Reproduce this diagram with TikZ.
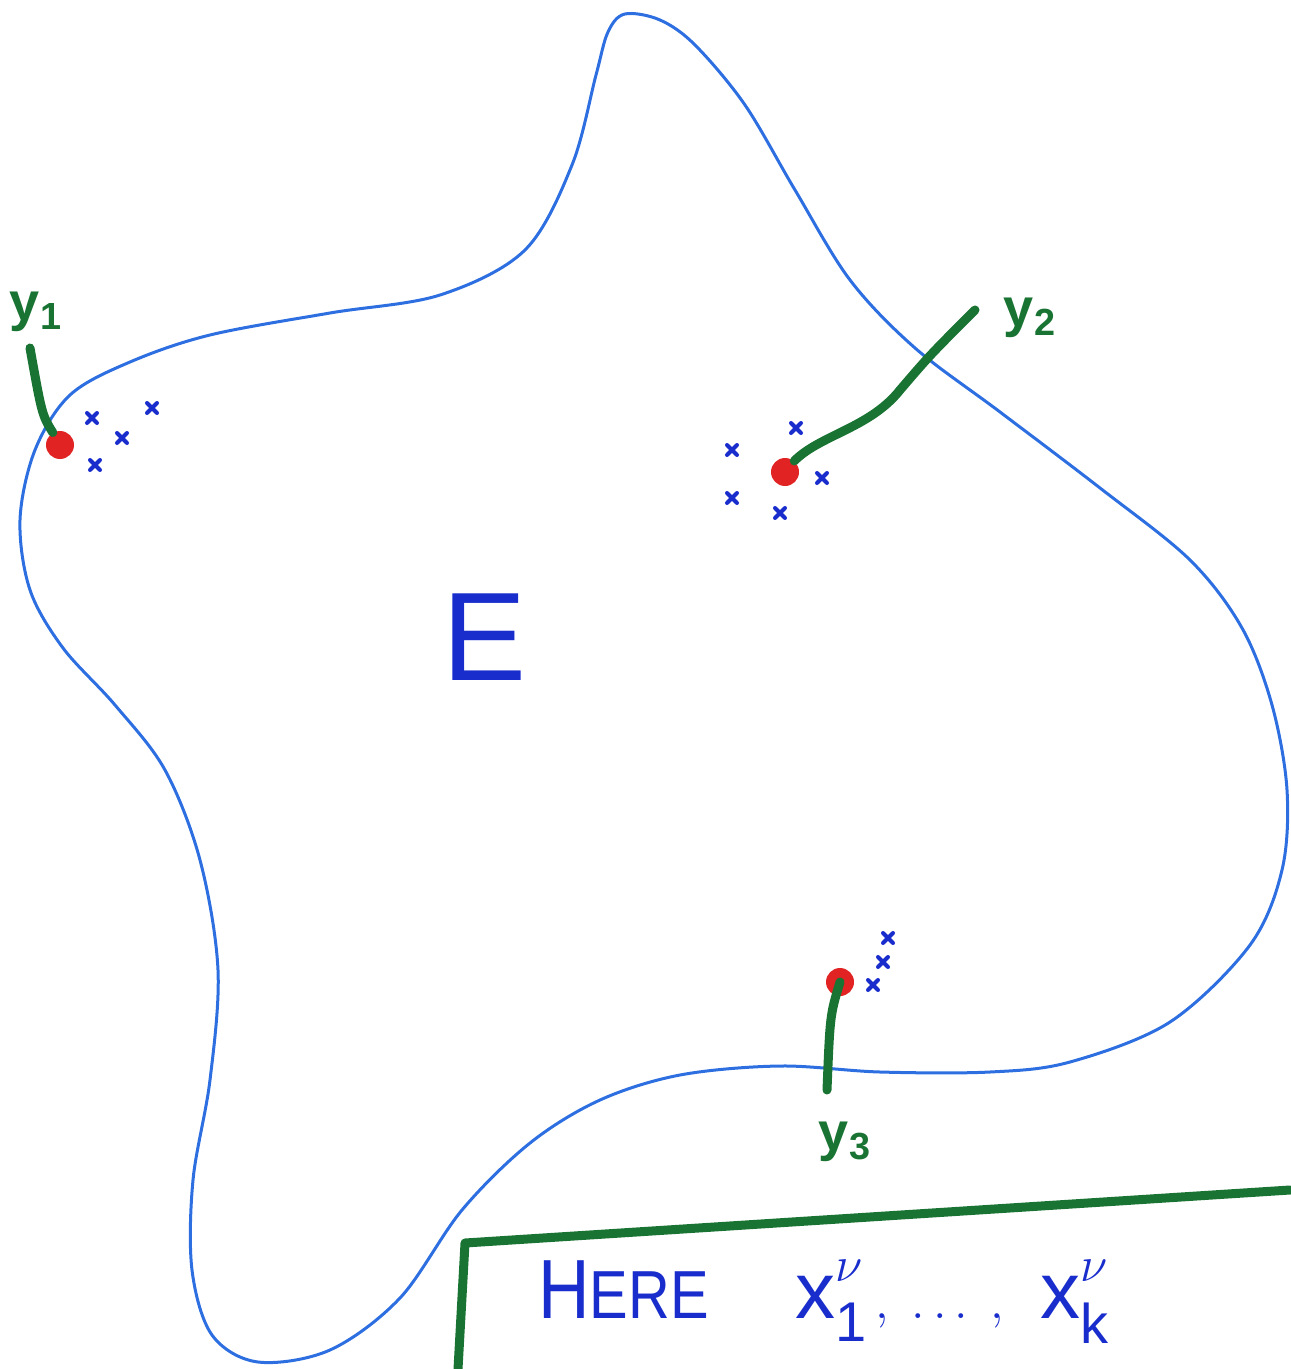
\documentclass[tikz,border=0pt]{standalone}
\usepackage{fontspec}
\setsansfont{Liberation Sans}
\usetikzlibrary{positioning}
\definecolor{penblue}{RGB}{45,110,225}
\definecolor{inkblue}{RGB}{25,45,205}
\definecolor{pengreen}{RGB}{25,115,50}
\definecolor{penred}{RGB}{225,35,35}
\newcommand{\hinu}{\raisebox{9pt}{$\scriptstyle\nu$}}

\begin{document}
\begin{tikzpicture}[x=0.5pt, y=-0.5pt,
    outline/.style={draw=penblue, line width=1.5pt},
    dot/.style={circle, fill=penred, inner sep=0pt, minimum size=14pt},
    stick/.style={draw=pengreen, line width=4.5pt, line cap=round, line join=round},
    ylbl/.style={text=pengreen, font=\sffamily\bfseries\fontsize{27}{27}\selectfont},
    xmark/.style={draw=inkblue, line width=2pt, line cap=round}]
  \useasboundingbox (0,0) rectangle (1290,1369);

  % the set E
  \draw[outline] plot[smooth cycle, tension=0.55] coordinates {
    (625,14) (660,20) (695,45) (745,105) (795,190) (850,280) (915,348)
    (1000,412) (1100,488) (1190,560) (1242,628) (1272,705) (1287,790)
    (1282,870) (1250,945) (1170,1022) (1070,1062) (990,1072) (880,1072)
    (780,1066) (680,1075) (600,1100) (530,1143) (462,1210) (400,1298)
    (330,1350) (258,1362) (212,1335) (192,1270) (193,1180) (210,1080)
    (218,970) (200,860) (165,770) (115,705) (63,648) (30,590) (20,520)
    (35,450) (70,395) (130,362) (210,335) (330,313) (440,295) (525,250)
    (572,165) (596,75) (608,32)};
  \node[text=inkblue, font=\sffamily\fontsize{63}{63}\selectfont] (E) at (485,637) {E};

  % points y_i
  \node[dot] (y1) at (60,445) {};
  \node[dot] (y2) at (785,472) {};
  \node[dot] (y3) at (840,982) {};

  \coordinate (y1top) at (30,348);
  \coordinate (y2top) at (975,310);
  \coordinate (y3bot) at (827,1090);

  \draw[stick] (y1.120) .. controls (42,415) .. (y1top);
  \draw[stick] (y2.50) .. controls (820,435) and (870,428) .. (900,390)
    .. controls (930,355) .. (y2top);
  \draw[stick] (y3.center) .. controls (830,1015) .. (y3bot);

  \node[ylbl] (y1lbl) at (36,312) {y\textsubscript{1}};
  \node[ylbl] (y2lbl) at (1030,318) {y\textsubscript{2}};
  \node[ylbl] (y3lbl) at (845,1142) {y\textsubscript{3}};

  % nearby points
  \foreach \p in {(92,418), (122,438), (95,465), (152,408),
                  (732,450), (796,428), (822,478), (732,498), (780,513),
                  (888,938), (883,962), (873,985)}
    \draw[xmark] \p +(-5,-5) -- +(5,5) \p +(-5,5) -- +(5,-5);

  % box with the note
  \coordinate (boxtl) at (465,1243);
  \coordinate (boxtr) at (1290,1190);
  \coordinate (boxbl) at (458,1369);
  \draw[stick] (boxtr) -- (boxtl) -- (boxbl);
  \node[anchor=base west, text=inkblue, font=\sffamily\fontsize{42}{42}\selectfont,
        xscale=0.85, inner sep=0pt] (here) at (538,1318)
    {H{\fontsize{34}{34}\selectfont ERE}};
  \node[anchor=base west, text=inkblue, font=\fontsize{40}{40}\selectfont,
        inner sep=0pt] (xs) at (795,1318)
    {$\mathsf{x}_{\mathsf{1}}^{\hinu}\,,\;\ldots\;,\;\;\mathsf{x}_{\mathsf{k}}^{\hinu}$};
\end{tikzpicture}
\end{document}
